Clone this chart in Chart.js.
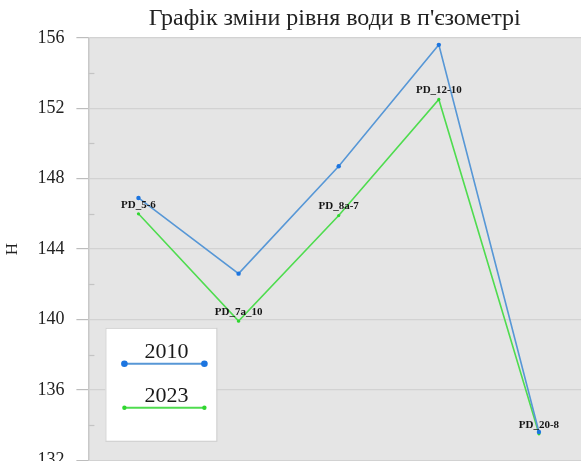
<!DOCTYPE html>
<html>
<head>
<meta charset="utf-8">
<script src="https://cdn.jsdelivr.net/npm/chart.js@4"></script>
<style>
  html, body { margin: 0; padding: 0; background: #fff; overflow: hidden; }
  #wrap { width: 581px; height: 483px; position: relative; }
</style>
</head>
<body>
<div id="wrap"><canvas id="levelChart"></canvas></div>
<script>
// piezometer wells and water level per year
const wells = ['PD_5-6', 'PD_7a_10', 'PD_8a-7', 'PD_12-10', 'PD_20-8'];
const level2010 = [146.9, 142.6, 148.7, 155.6, 133.6];
const level2023 = [146.0, 139.9, 145.9, 152.5, 133.5];
const yMin = 132, yMax = 156, yStep = 4;
const seriesNames = ['2010', '2023'];

const blueLine = '#5797d6', bluePoint = '#1c75e0';
const greenLine = '#4fdc4f', greenPoint = '#2fd62f';
const serif = "'Liberation Serif', 'DejaVu Serif', serif";

const toPoints = arr => arr.map((v, i) => ({ x: i, y: v }));

// grey plot area
const plotBg = {
    id: 'plotBg',
    beforeDraw(chart) {
        const { ctx, chartArea: a } = chart;
        ctx.save();
        ctx.fillStyle = '#e5e5e5';
        ctx.fillRect(a.left, a.top, a.right - a.left, a.bottom - a.top);
        ctx.restore();
    }
};

// small inner ticks halfway between labelled values
const minorTicks = {
    id: 'minorTicks',
    beforeDatasetsDraw(chart) {
        const { ctx, chartArea: a, scales } = chart;
        ctx.save();
        ctx.strokeStyle = '#c4c4c4';
        ctx.lineWidth = 1.2;
        for (let v = yMin + yStep / 2; v < yMax; v += yStep) {
            const y = Math.round(scales.y.getPixelForValue(v)) + 0.5;
            ctx.beginPath();
            ctx.moveTo(a.left, y);
            ctx.lineTo(a.left + 6, y);
            ctx.stroke();
        }
        ctx.restore();
    }
};

// well names above the 2023 points
const wellLabels = {
    id: 'wellLabels',
    afterDatasetsDraw(chart) {
        const { ctx } = chart;
        const meta = chart.getDatasetMeta(1);
        ctx.save();
        ctx.font = "bold 11px " + serif;
        ctx.fillStyle = '#151515';
        ctx.textAlign = 'center';
        ctx.textBaseline = 'middle';
        meta.data.forEach((pt, i) => {
            ctx.fillText(wells[i], pt.x, pt.y - 9);
        });
        ctx.restore();
    }
};

// legend box inside the plot, bottom left
const boxLegend = {
    id: 'boxLegend',
    afterDraw(chart) {
        const { ctx, chartArea: a } = chart;
        const bx = a.left + 17, by = a.top + 290, bw = 111, bh = 113;
        ctx.save();
        ctx.fillStyle = '#fff';
        ctx.fillRect(bx, by, bw, bh);
        ctx.strokeStyle = '#cfcfcf';
        ctx.lineWidth = 1;
        ctx.strokeRect(bx + 0.5, by + 0.5, bw, bh);

        const rows = [
            { y: by + 36, line: blueLine, dot: bluePoint, r: 3.3 },
            { y: by + 80, line: greenLine, dot: greenPoint, r: 2.2 }
        ];
        rows.forEach((row, i) => {
            const x1 = bx + 19, x2 = bx + 99;
            ctx.strokeStyle = row.line;
            ctx.lineWidth = 2;
            ctx.beginPath();
            ctx.moveTo(x1, row.y);
            ctx.lineTo(x2, row.y);
            ctx.stroke();
            ctx.fillStyle = row.dot;
            [x1, x2].forEach(x => {
                ctx.beginPath();
                ctx.arc(x, row.y, row.r, 0, Math.PI * 2);
                ctx.fill();
            });
            ctx.fillStyle = '#1a1a1a';
            ctx.font = "22px " + serif;
            ctx.textAlign = 'center';
            ctx.textBaseline = 'alphabetic';
            ctx.fillText(chart.data.datasets[i].label, bx + 61, row.y - 6);
        });
        ctx.restore();
    }
};

new Chart(document.getElementById('levelChart'), {
    type: 'line',
    data: {
        datasets: [
            {
                label: seriesNames[0],
                data: toPoints(level2010),
                borderColor: blueLine,
                backgroundColor: bluePoint,
                pointBackgroundColor: bluePoint,
                pointBorderWidth: 0,
                pointRadius: 2.2,
                borderWidth: 1.6,
                tension: 0
            },
            {
                label: seriesNames[1],
                data: toPoints(level2023),
                borderColor: greenLine,
                backgroundColor: greenPoint,
                pointBackgroundColor: greenPoint,
                pointBorderWidth: 0,
                pointRadius: 1.6,
                borderWidth: 1.6,
                tension: 0
            }
        ]
    },
    options: {
        responsive: true,
        maintainAspectRatio: false,
        animation: false,
        layout: { autoPadding: false, padding: { left: 2, right: 0, top: 0, bottom: 0 } },
        scales: {
            x: {
                type: 'linear',
                min: -0.5,
                max: 4.42,
                display: false
            },
            y: {
                min: yMin,
                max: yMax,
                ticks: {
                    stepSize: yStep,
                    color: '#222',
                    padding: 12,
                    font: { family: serif, size: 18 }
                },
                grid: {
                    color: '#d2d2d2',
                    lineWidth: 1.2,
                    tickLength: 12,
                    tickColor: '#bdbdbd'
                },
                border: { color: '#c8c8c8', width: 1.5 },
                title: {
                    display: true,
                    text: 'Н',
                    color: '#222',
                    font: { family: serif, size: 17 },
                    padding: { top: 0, bottom: 3 }
                }
            }
        },
        plugins: {
            legend: { display: false },
            tooltip: { enabled: false },
            title: {
                display: true,
                fullSize: false,
                text: 'Графік зміни рівня води в п\'єзометрі',
                color: '#222',
                font: { family: serif, size: 24, weight: 'normal' },
                padding: { top: 4, bottom: 5 }
            }
        }
    },
    plugins: [plotBg, minorTicks, wellLabels, boxLegend]
});
</script>
</body>
</html>
